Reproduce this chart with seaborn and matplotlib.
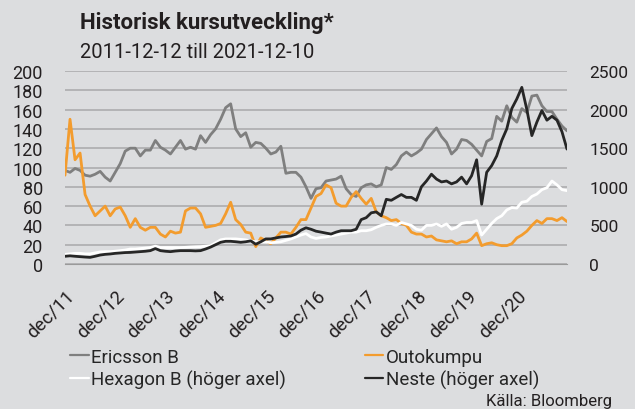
import numpy as np
import pandas as pd
import matplotlib
matplotlib.use('Agg')
import matplotlib.pyplot as plt
import matplotlib.transforms as mtransforms
import seaborn as sns

# values, 101 evenly spaced points 2011-12-12 .. 2021-12-10
ericsson = [97, 95, 99, 97, 92, 91, 93, 96, 90, 86,
            95, 104, 117, 120, 120, 112, 118, 118, 128, 121,
            118, 114, 121, 128, 119, 121, 119, 133, 126, 134,
            140, 150, 162, 166, 140, 132, 136, 121, 126, 125,
            120, 114, 116, 122, 94, 95, 95, 90, 80, 68,
            78, 79, 86, 87, 88, 91, 78, 72, 70, 79,
            82, 83, 80, 82, 100, 98, 103, 112, 116, 112,
            115, 119, 129, 135, 141, 132, 126, 114, 119, 129,
            128, 124, 118, 112, 127, 130, 153, 148, 164, 152,
            147, 161, 157, 174, 175, 164, 158, 158, 150, 143,
            138]
outokumpu = [92, 150, 108, 115, 72, 60, 50, 55, 60, 50,
             57, 59, 50, 38, 47, 38, 35, 38, 38, 31,
             28, 34, 32, 33, 55, 58, 58, 52, 38, 39,
             40, 42, 52, 64, 46, 41, 33, 32, 18, 27,
             24, 21, 27, 33, 33, 31, 38, 46, 46, 58,
             70, 73, 82, 79, 63, 60, 60, 69, 75, 68,
             62, 68, 54, 50, 48, 45, 46, 42, 40, 33,
             31, 31, 28, 29, 25, 24, 23, 24, 21, 23,
             23, 26, 32, 19, 21, 22, 20, 19, 19, 21,
             27, 30, 34, 40, 45, 42, 47, 47, 45, 48,
             44]
hexagon = [125, 131, 138, 138, 131, 131, 144, 156, 160, 160,
           166, 173, 181, 194, 194, 200, 206, 213, 231, 213,
           213, 213, 213, 213, 216, 220, 223, 225, 231, 238,
           275, 313, 325, 325, 325, 319, 313, 300, 288, 288,
           288, 275, 281, 288, 306, 325, 350, 375, 394, 350,
           331, 344, 350, 363, 375, 388, 400, 413, 413, 431,
           431, 444, 475, 500, 519, 519, 500, 538, 519, 500,
           450, 438, 500, 500, 519, 488, 519, 450, 475, 525,
           538, 538, 563, 375, 450, 525, 588, 625, 700, 731,
           725, 800, 813, 875, 906, 963, 988, 1075, 1025, 963,
           950]
neste = [100, 106, 100, 95, 90, 86, 100, 116, 125, 130,
         138, 143, 148, 150, 155, 160, 165, 173, 200, 173,
         165, 160, 168, 173, 173, 173, 170, 173, 194, 219,
         250, 281, 294, 294, 288, 281, 288, 300, 256, 288,
         325, 325, 338, 350, 356, 363, 388, 438, 469, 450,
         425, 413, 400, 388, 413, 431, 431, 431, 450, 575,
         600, 663, 675, 625, 838, 825, 863, 900, 863, 863,
         825, 1000, 1075, 1163, 1100, 1063, 1075, 1038, 1063, 1125,
         1038, 1144, 1350, 775, 1188, 1275, 1400, 1600, 1750, 2013,
         2138, 2288, 2000, 1663, 1838, 1988, 1863, 1913, 1863, 1713,
         1488]

tick_labels = ['dec/11', 'dec/12', 'dec/13', 'dec/14', 'dec/15',
               'dec/16', 'dec/17', 'dec/18', 'dec/19', 'dec/20']

dates = pd.date_range('2011-12-12', '2021-12-10', periods=len(ericsson))
df = pd.DataFrame({'date': dates, 'Ericsson B': ericsson, 'Outokumpu': outokumpu,
                   'Hexagon B (höger axel)': hexagon, 'Neste (höger axel)': neste})

bg = '#dcdddf'
ink = '#231f20'
sns.set_style('white')
plt.rcParams['font.family'] = ['Roboto', 'DejaVu Sans']

fig = plt.figure(figsize=(6.35, 4.1), dpi=100)
fig.patch.set_facecolor(bg)
ax = fig.add_axes([65 / 635, 1 - 265 / 410, 502 / 635, 193 / 410])
ax.set_facecolor(bg)

sns.lineplot(data=df, x='date', y='Ericsson B', ax=ax, color='#7f7f7f', lw=2, label='Ericsson B')
sns.lineplot(data=df, x='date', y='Outokumpu', ax=ax, color='#f39c2e', lw=2, label='Outokumpu')

ax2 = ax.twinx()
sns.lineplot(data=df, x='date', y='Hexagon B (höger axel)', ax=ax2, color='white', lw=2,
             label='Hexagon B (höger axel)')
sns.lineplot(data=df, x='date', y='Neste (höger axel)', ax=ax2, color='#262626', lw=2,
             label='Neste (höger axel)')

ax.set_xlim(dates[0], dates[-1])
ax.set_ylim(0, 200)
ax.set_yticks(range(0, 201, 20))
ax2.set_ylim(0, 2500)
ax2.set_yticks(range(0, 2501, 500))
ax.grid(axis='y', color='#a8a8aa', lw=1.1)
ax.set_axisbelow(True)

ticks = pd.date_range('2011-12-12', periods=10, freq=pd.DateOffset(years=1))
ax.set_xticks(ticks)
ax.set_xticklabels(tick_labels, rotation=45, ha='right', va='top', rotation_mode='anchor')
shift = mtransforms.ScaledTranslation(4 / 100, 0, fig.dpi_scale_trans)
for lab in ax.get_xticklabels():
    lab.set_transform(lab.get_transform() + shift)

for a in (ax, ax2):
    a.set_xlabel('')
    a.set_ylabel('')
    for s in ('top', 'left', 'right', 'bottom'):
        a.spines[s].set_visible(False)
ax.spines['bottom'].set_visible(True)
ax.spines['bottom'].set_color('#9a9a9a')
ax.tick_params(axis='x', colors='#9a9a9a', length=5, width=1, labelcolor=ink,
               labelsize=13.5, pad=11)
ax.tick_params(axis='y', length=0, pad=16, labelsize=13, labelcolor=ink)
ax2.tick_params(axis='y', length=0, pad=16, labelsize=12.5, labelcolor=ink)

h1, l1 = ax.get_legend_handles_labels()
h2, l2 = ax2.get_legend_handles_labels()
ax.get_legend().remove()
ax2.get_legend().remove()
leg = fig.legend([h1[0], h2[0], h1[1], h2[1]], [l1[0], l2[0], l1[1], l2[1]],
                 ncol=2, loc='upper left', bbox_to_anchor=(70 / 635, 1 - 349 / 410),
                 frameon=False, fontsize=13.5, handlelength=1.0, handletextpad=0.12,
                 columnspacing=4.2, labelspacing=0.22, borderaxespad=0, borderpad=0)
for line in leg.get_lines():
    line.set_linewidth(1.6)

fig.text(80 / 635, 1 - 23 / 410, 'Historisk kursutveckling*', fontsize=16,
         fontweight='bold', va='center', color=ink)
fig.text(80 / 635, 1 - 53 / 410, '2011-12-12 till 2021-12-10', fontsize=14.5,
         va='center', color=ink)
fig.text(612 / 635, 1 - 402 / 410, 'Källa: Bloomberg', fontsize=12,
         ha='right', va='center', color=ink)

fig.savefig('out.png', dpi=100, facecolor=bg)
